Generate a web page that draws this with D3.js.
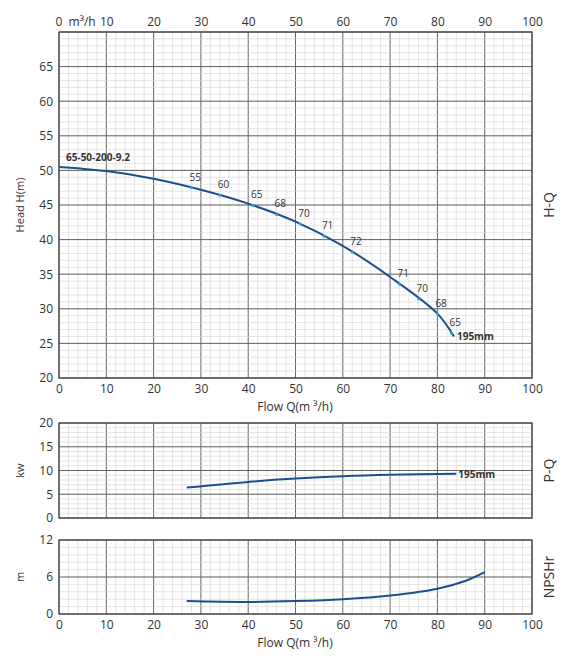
<!DOCTYPE html>
<html><head><meta charset="utf-8">
<script src="https://cdn.jsdelivr.net/npm/d3@7"></script>
<style>body{margin:0;background:#fff}text{font-family:"Open Sans",sans-serif}</style>
</head><body><svg id="c" width="567" height="672"></svg>
<script>
// data
const hqFlow = [0, 10, 20, 30, 40, 50, 60, 70, 80, 83.5];
const hqHead = [50.5, 49.9, 48.8, 47.2, 45.2, 42.6, 39.1, 34.6, 29.3, 26];
const effFlow = [28, 34, 41, 46, 51, 56, 62, 72, 76, 80, 83];
const effLabel = ["55", "60", "65", "68", "70", "71", "72", "71", "70", "68", "65"];
const pqFlow = [27, 40, 50, 60, 70, 84];
const pqPower = [6.4, 7.6, 8.3, 8.8, 9.1, 9.3];
const npFlow = [27, 40, 50, 60, 70, 80, 86, 90];
const npVal = [2.1, 1.95, 2.1, 2.4, 3.0, 4.1, 5.4, 6.8];
const xTicks = [0, 10, 20, 30, 40, 50, 60, 70, 80, 90, 100];

const svg = d3.select("#c");
const x = d3.scaleLinear().domain([0, 100]).range([59, 532]);
const blue = "#1d4f8f";

function panel(y0, y1, dom, major, minor, name, yTitle) {
  const y = d3.scaleLinear().domain(dom).range([y1, y0]);
  const g = svg.append("g");
  d3.range(0, 100.01, 2).forEach(v => g.append("line").attr("x1", x(v)).attr("x2", x(v)).attr("y1", y0).attr("y2", y1)
    .attr("stroke", v % 10 ? "#d4d4d4" : "#555").attr("stroke-width", v % 10 ? 0.6 : 0.9));
  d3.range(dom[0], dom[1] + 0.01, minor).forEach(v => g.append("line").attr("x1", 59).attr("x2", 532).attr("y1", y(v)).attr("y2", y(v))
    .attr("stroke", "#d4d4d4").attr("stroke-width", 0.6));
  d3.range(dom[0], dom[1] + 0.01, major).forEach(v => g.append("line").attr("x1", 59).attr("x2", 532).attr("y1", y(v)).attr("y2", y(v))
    .attr("stroke", "#555").attr("stroke-width", 0.9));
  g.append("rect").attr("x", 59).attr("y", y0).attr("width", 473).attr("height", y1 - y0).attr("fill", "none").attr("stroke", "#444").attr("stroke-width", 1.2);
  g.append("g").attr("transform", "translate(59,0)").call(d3.axisLeft(y).tickValues(d3.range(dom[0], dom[1] + 0.01, major).filter(v => v < dom[1] || name !== "H-Q")).tickSize(0).tickPadding(6))
    .call(a => a.select(".domain").remove()).selectAll("text").style("font-size", "12px").attr("fill", "#333");
  svg.append("text").attr("transform", `translate(549,${(y0 + y1) / 2}) rotate(-90)`).attr("text-anchor", "middle").attr("dy", "0.35em")
    .style("font-size", "14px").attr("fill", "#333").text(name);
  svg.append("text").attr("transform", `translate(24,${(y0 + y1) / 2}) rotate(-90)`).attr("text-anchor", "middle")
    .style("font-size", "11px").attr("fill", "#333").text(yTitle);
  return y;
}
function bottomAxis(yPos, title) {
  svg.append("g").attr("transform", `translate(0,${yPos})`).call(d3.axisBottom(x).tickValues(xTicks).tickSize(0).tickPadding(6))
    .call(a => a.select(".domain").remove()).selectAll("text").style("font-size", "12px").attr("fill", "#333");
  svg.append("text").attr("x", 295).attr("y", yPos + 33).attr("text-anchor", "middle").style("font-size", "12px").attr("fill", "#333").text(title);
}
const line = (y) => d3.line().x(d => x(d[0])).y(d => y(d[1])).curve(d3.curveCatmullRom);

// H-Q
const yH = panel(32, 378, [20, 70], 5, 1, "H-Q", "Head H(m)");
bottomAxis(378, "Flow Q(m ³/h)");
svg.append("g").attr("transform", "translate(0,32)").call(d3.axisTop(x).tickValues(xTicks).tickSize(0).tickPadding(6).tickFormat(d => d === 0 ? "0\u00a0\u00a0m³/h" : d))
  .call(a => a.select(".domain").remove()).selectAll("text").style("font-size", "12px").attr("fill", "#333")
  .attr("text-anchor", d => d === 0 ? "start" : "middle").attr("dx", d => d === 0 ? "-4" : 0);
const hq = hqFlow.map((q, i) => [q, hqHead[i]]);
svg.append("path").datum(hq).attr("d", line(yH)).attr("fill", "none").attr("stroke", blue).attr("stroke-width", 2);
const interp = q => { for (let i = 1; i < hq.length; i++) if (q <= hq[i][0]) { const t = (q - hq[i-1][0]) / (hq[i][0] - hq[i-1][0]); return hq[i-1][1] + t * (hq[i][1] - hq[i-1][1]); } return hq[hq.length-1][1]; };
effFlow.forEach((q, i) => {
  svg.append("circle").attr("cx", x(q)).attr("cy", yH(interp(q))).attr("r", 1.5).attr("fill", "#2aa3dd");
  svg.append("text").attr("x", x(q) - 2).attr("y", yH(interp(q)) - 7).style("font-size", "10px").attr("fill", "#333").text(effLabel[i]);
});
svg.append("text").attr("x", 66).attr("y", yH(51.3)).style("font-size", "10px").style("font-weight", "bold").attr("fill", "#333").text("65-50-200-9.2");
svg.append("text").attr("x", x(83.5) + 3).attr("y", yH(26) + 4).style("font-size", "10px").style("font-weight", "bold").attr("fill", "#333").text("195mm");

// P-Q
const yP = panel(423, 518, [0, 20], 5, 1, "P-Q", "kw");
svg.append("path").datum(pqFlow.map((q, i) => [q, pqPower[i]])).attr("d", line(yP)).attr("fill", "none").attr("stroke", blue).attr("stroke-width", 2);
svg.append("text").attr("x", x(84) + 2).attr("y", yP(9.3) + 4).style("font-size", "10px").style("font-weight", "bold").attr("fill", "#333").text("195mm");

// NPSHr
const yN = panel(540, 614, [0, 12], 6, 1.2, "NPSHr", "m");
bottomAxis(614, "Flow Q(m ³/h)");
svg.append("path").datum(npFlow.map((q, i) => [q, npVal[i]])).attr("d", line(yN)).attr("fill", "none").attr("stroke", blue).attr("stroke-width", 2);
</script></body></html>
